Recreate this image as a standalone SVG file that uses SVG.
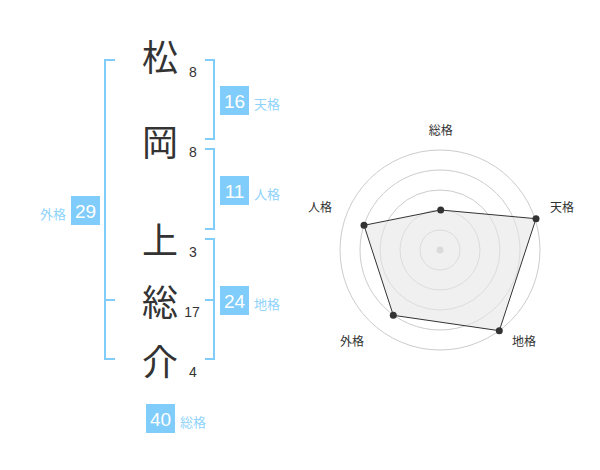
<svg xmlns="http://www.w3.org/2000/svg" width="600" height="470" viewBox="0 0 600 470">
<style>
.ch{font-family:"Noto Sans CJK JP","Noto Sans CJK SC",sans-serif;font-size:36px;fill:#333;text-anchor:middle;dominant-baseline:central}
.st{font-family:"Liberation Sans",Arial,sans-serif;font-size:14px;fill:#333;text-anchor:middle}
.br{fill:none;stroke:#80ccfa;stroke-width:2}
.box{fill:#80ccfa}
.bn{font-family:"Liberation Sans",Arial,sans-serif;font-size:19px;fill:#fff;text-anchor:middle}
.bl{font-family:"Noto Sans CJK JP","Noto Sans CJK SC",sans-serif;font-size:13px;fill:#8fd3fb}
.ring{fill:none;stroke:#cccccc;stroke-width:1}
.rl{font-family:"Noto Sans CJK JP","Noto Sans CJK SC",sans-serif;font-size:12px;fill:#333;text-anchor:middle}
.dot{fill:#333}
</style>
<rect width="600" height="470" fill="#fff"/>
<g id="chars">
<g id="c1"><text class="ch" x="160" y="55">松</text><text class="st" x="193" y="77">8</text></g>
<g id="c2"><text class="ch" x="160" y="140">岡</text><text class="st" x="193" y="157">8</text></g>
<g id="c3"><text class="ch" x="160" y="238">上</text><text class="st" x="193" y="257">3</text></g>
<g id="c4"><text class="ch" x="160" y="300">総</text><text class="st" x="192" y="317">17</text></g>
<g id="c5"><text class="ch" x="160" y="360">介</text><text class="st" x="193" y="377">4</text></g>
</g>
<g id="connectors">
<path class="br" d="M115,60 H105 V359 H115 M105,300 H115"/>
<path class="br" d="M205,60 H214 V139 H205"/>
<path class="br" d="M205,149 H214 V229 H205"/>
<path class="br" d="M205,239 H214 V359 H205 M205,300 H214"/>
</g>
<g id="tenkaku"><rect class="box" x="220" y="86" width="29" height="29"/><text class="bn" x="234.5" y="108">16</text><text class="bl" x="254" y="109">天格</text></g>
<g id="jinkaku"><rect class="box" x="220" y="176" width="29" height="29"/><text class="bn" x="234.5" y="198">11</text><text class="bl" x="254" y="199">人格</text></g>
<g id="chikaku"><rect class="box" x="220" y="286" width="29" height="29"/><text class="bn" x="234.5" y="308">24</text><text class="bl" x="254" y="309">地格</text></g>
<g id="gaikaku"><rect class="box" x="71" y="196" width="29" height="29"/><text class="bn" x="85.5" y="218">29</text><text class="bl" x="66" y="219" text-anchor="end">外格</text></g>
<g id="soukaku"><rect class="box" x="146" y="404" width="29" height="29"/><text class="bn" x="160.5" y="426">40</text><text class="bl" x="180" y="427">総格</text></g>
<g id="radar">
<circle class="ring" cx="440" cy="250" r="20"/>
<circle class="ring" cx="440" cy="250" r="40"/>
<circle class="ring" cx="440" cy="250" r="60"/>
<circle class="ring" cx="440" cy="250" r="80"/>
<circle class="ring" cx="440" cy="250" r="100"/>
<circle cx="440" cy="250" r="3.5" fill="#c8c8c8"/>
<polygon points="440.7,210 536,218.7 499.3,330.7 393.3,315.3 364,225.3" fill="#e6e6e6" fill-opacity="0.6" stroke="#333" stroke-width="1"/>
<circle class="dot" cx="440.7" cy="210" r="3.5"/>
<circle class="dot" cx="536" cy="218.7" r="3.5"/>
<circle class="dot" cx="499.3" cy="330.7" r="3.5"/>
<circle class="dot" cx="393.3" cy="315.3" r="3.5"/>
<circle class="dot" cx="364" cy="225.3" r="3.5"/>
<text class="rl" x="440.7" y="135">総格</text>
<text class="rl" x="562" y="212">天格</text>
<text class="rl" x="320" y="212">人格</text>
<text class="rl" x="352" y="346">外格</text>
<text class="rl" x="524" y="346">地格</text>
</g>
</svg>
